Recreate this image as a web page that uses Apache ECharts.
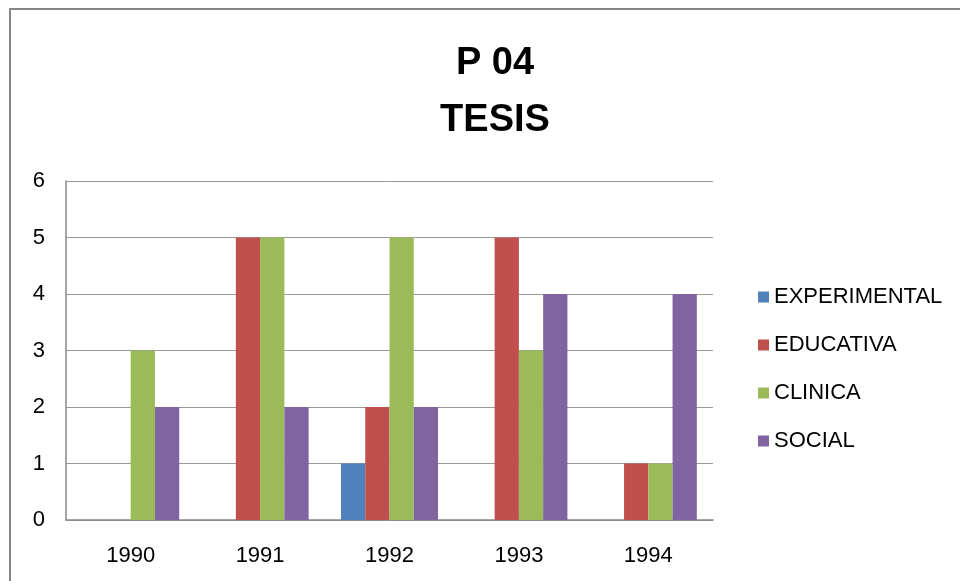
<!DOCTYPE html>
<html>
<head>
<meta charset="utf-8">
<script src="https://cdn.jsdelivr.net/npm/echarts@6/dist/echarts.min.js"></script>
<style>
  html, body { margin: 0; padding: 0; background: #fff; }
  #chart { width: 960px; height: 581px; }
</style>
</head>
<body>
<div id="chart"></div>
<script>
// data
var years = ['1990', '1991', '1992', '1993', '1994'];
var experimental = [0, 0, 1, 0, 0];
var educativa = [0, 5, 2, 5, 1];
var clinica = [3, 5, 5, 3, 1];
var social = [2, 2, 2, 4, 4];

var myChart = echarts.init(document.getElementById('chart'));
var font = 'Liberation Sans, Arial, sans-serif';

function bar(name, values, color) {
    return {
        name: name,
        type: 'bar',
        data: values,
        barGap: 0,
        barCategoryGap: '25%',
        itemStyle: { color: color }
    };
}

var option = {
    animation: false,
    graphic: [{
        type: 'rect',
        shape: { x: 10, y: 9, width: 1000, height: 700 },
        style: { fill: 'none', stroke: '#868686', lineWidth: 2 }
    }],
    title: {
        text: 'P 04\nTESIS',
        left: 490,
        textAlign: 'center',
        top: 30,
        textStyle: {
            fontFamily: font,
            fontSize: 38,
            fontWeight: 'bold',
            color: '#000',
            lineHeight: 57
        }
    },
    legend: {
        orient: 'vertical',
        left: 753,
        top: 281,
        itemWidth: 11,
        itemHeight: 11,
        itemGap: 26,
        icon: 'rect',
        textStyle: { fontFamily: font, fontSize: 22, lineHeight: 22, color: '#000' },
        data: ['EXPERIMENTAL', 'EDUCATIVA', 'CLINICA', 'SOCIAL']
    },
    grid: { left: 66, top: 181, right: 247, bottom: 61 },
    xAxis: {
        type: 'category',
        data: years,
        axisTick: { show: false },
        axisLine: { lineStyle: { color: '#888', width: 1.5 } },
        axisLabel: { fontFamily: font, fontSize: 22, color: '#000', margin: 25 }
    },
    yAxis: {
        type: 'value',
        min: 0,
        max: 6,
        interval: 1,
        axisLine: { show: true, lineStyle: { color: '#888', width: 1.5 } },
        axisTick: { show: false },
        splitLine: { lineStyle: { color: '#999', width: 1 } },
        axisLabel: { fontFamily: font, fontSize: 22, color: '#000', margin: 21 }
    },
    series: [
        bar('EXPERIMENTAL', experimental, '#4F81BD'),
        bar('EDUCATIVA', educativa, '#C0504D'),
        bar('CLINICA', clinica, '#9BBB59'),
        bar('SOCIAL', social, '#8064A2')
    ]
};

myChart.setOption(option);
</script>
</body>
</html>
